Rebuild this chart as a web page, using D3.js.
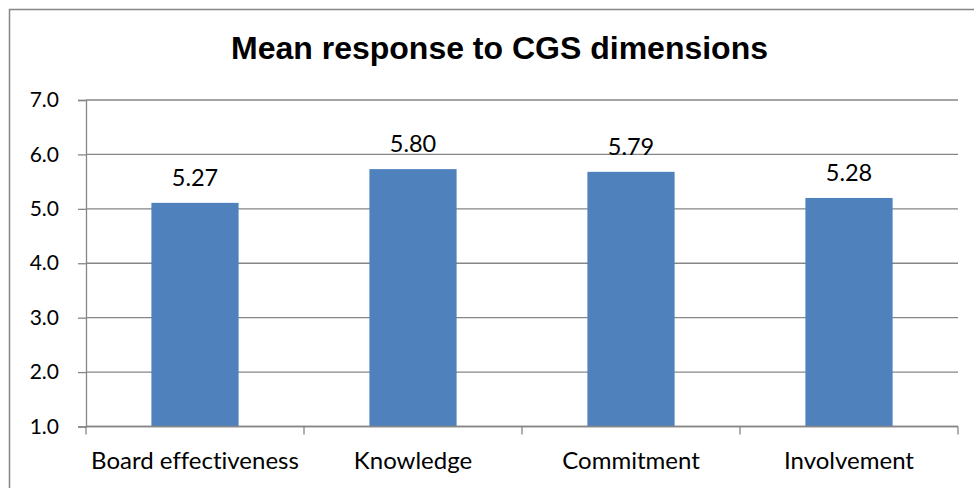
<!DOCTYPE html>
<html>
<head>
<meta charset="utf-8">
<script src="https://cdn.jsdelivr.net/npm/d3@7"></script>
<style>
  html, body { margin: 0; padding: 0; background: #fff; }
  svg { display: block; }
  text { font-variant-ligatures: none; }
</style>
</head>
<body>
<svg id="chart" width="974" height="488"></svg>
<script>
const title = "Mean response to CGS dimensions";
const categories = ["Board effectiveness", "Knowledge", "Commitment", "Involvement"];
const barValues = [5.11, 5.73, 5.68, 5.20];
const dataLabels = ["5.27", "5.80", "5.79", "5.28"];
const yTicks = [1, 2, 3, 4, 5, 6, 7];

const svg = d3.select("#chart");
const W = 974, H = 488;
const margin = { left: 86, right: 16, top: 100, bottom: 61.5 };

svg.append("rect").attr("width", W).attr("height", H).attr("fill", "#fff");
// chart area border (only top and left visible in the frame)
svg.append("rect")
  .attr("x", 9.5).attr("y", 9.5)
  .attr("width", W + 20).attr("height", H + 20)
  .attr("fill", "none").attr("stroke", "#868686").attr("stroke-width", 1.5);

const x = d3.scaleBand()
  .domain(categories)
  .range([margin.left, W - margin.right])
  .paddingInner(0.6).paddingOuter(0.3);

const y = d3.scaleLinear()
  .domain([1, 7])
  .range([H - margin.bottom, margin.top]);

const axisColor = "#868686";
const labelFont = "Lato, 'Open Sans', sans-serif";

// gridlines
svg.append("g")
  .selectAll("line")
  .data(yTicks)
  .join("line")
  .attr("x1", margin.left).attr("x2", W - margin.right)
  .attr("y1", d => y(d)).attr("y2", d => y(d))
  .attr("stroke", axisColor).attr("stroke-width", 1.3);

// bars
svg.append("g")
  .selectAll("rect")
  .data(categories)
  .join("rect")
  .attr("x", d => x(d))
  .attr("width", x.bandwidth())
  .attr("y", (d, i) => y(barValues[i]))
  .attr("height", (d, i) => y(1) - y(barValues[i]))
  .attr("fill", "#4F81BD");

// y axis
const yAxis = d3.axisLeft(y)
  .tickValues(yTicks)
  .tickFormat(d3.format(".1f"))
  .tickSize(8)
  .tickPadding(19);
const gy = svg.append("g")
  .attr("transform", `translate(${margin.left},0)`)
  .call(yAxis);
gy.select(".domain").attr("stroke", axisColor).attr("stroke-width", 1.3);
gy.selectAll(".tick line").attr("stroke", axisColor).attr("stroke-width", 1.3);
gy.selectAll(".tick text")
  .attr("fill", "#000")
  .style("font-family", labelFont)
  .style("font-size", "21px");

// x axis with boundary ticks
const xAxisG = svg.append("g").attr("transform", `translate(0,${y(1)})`);
xAxisG.append("line")
  .attr("x1", margin.left).attr("x2", W - margin.right)
  .attr("stroke", axisColor).attr("stroke-width", 1.3);
const boundaries = d3.range(categories.length + 1).map(i => margin.left + i * (W - margin.right - margin.left) / categories.length);
xAxisG.selectAll("line.tk")
  .data(boundaries)
  .join("line")
  .attr("class", "tk")
  .attr("x1", d => d).attr("x2", d => d)
  .attr("y1", 0).attr("y2", 8)
  .attr("stroke", axisColor).attr("stroke-width", 1.3);
xAxisG.selectAll("text")
  .data(categories)
  .join("text")
  .attr("x", d => x(d) + x.bandwidth() / 2)
  .attr("y", 42)
  .attr("text-anchor", "middle")
  .style("font-family", labelFont)
  .style("font-size", "24px")
  .attr("fill", "#000")
  .text(d => d);

// data labels
svg.append("g")
  .selectAll("text")
  .data(categories)
  .join("text")
  .attr("x", d => x(d) + x.bandwidth() / 2)
  .attr("y", (d, i) => y(barValues[i]) - 17)
  .attr("text-anchor", "middle")
  .style("font-family", labelFont)
  .style("font-size", "23.5px")
  .attr("fill", "#000")
  .text((d, i) => dataLabels[i]);

// title
svg.append("text")
  .attr("x", 499.5).attr("y", 59)
  .attr("text-anchor", "middle")
  .style("font-family", "'Liberation Sans', Arial, sans-serif")
  .style("font-weight", "bold")
  .style("font-size", "32px")
  .attr("fill", "#000")
  .text(title);
</script>
</body>
</html>
